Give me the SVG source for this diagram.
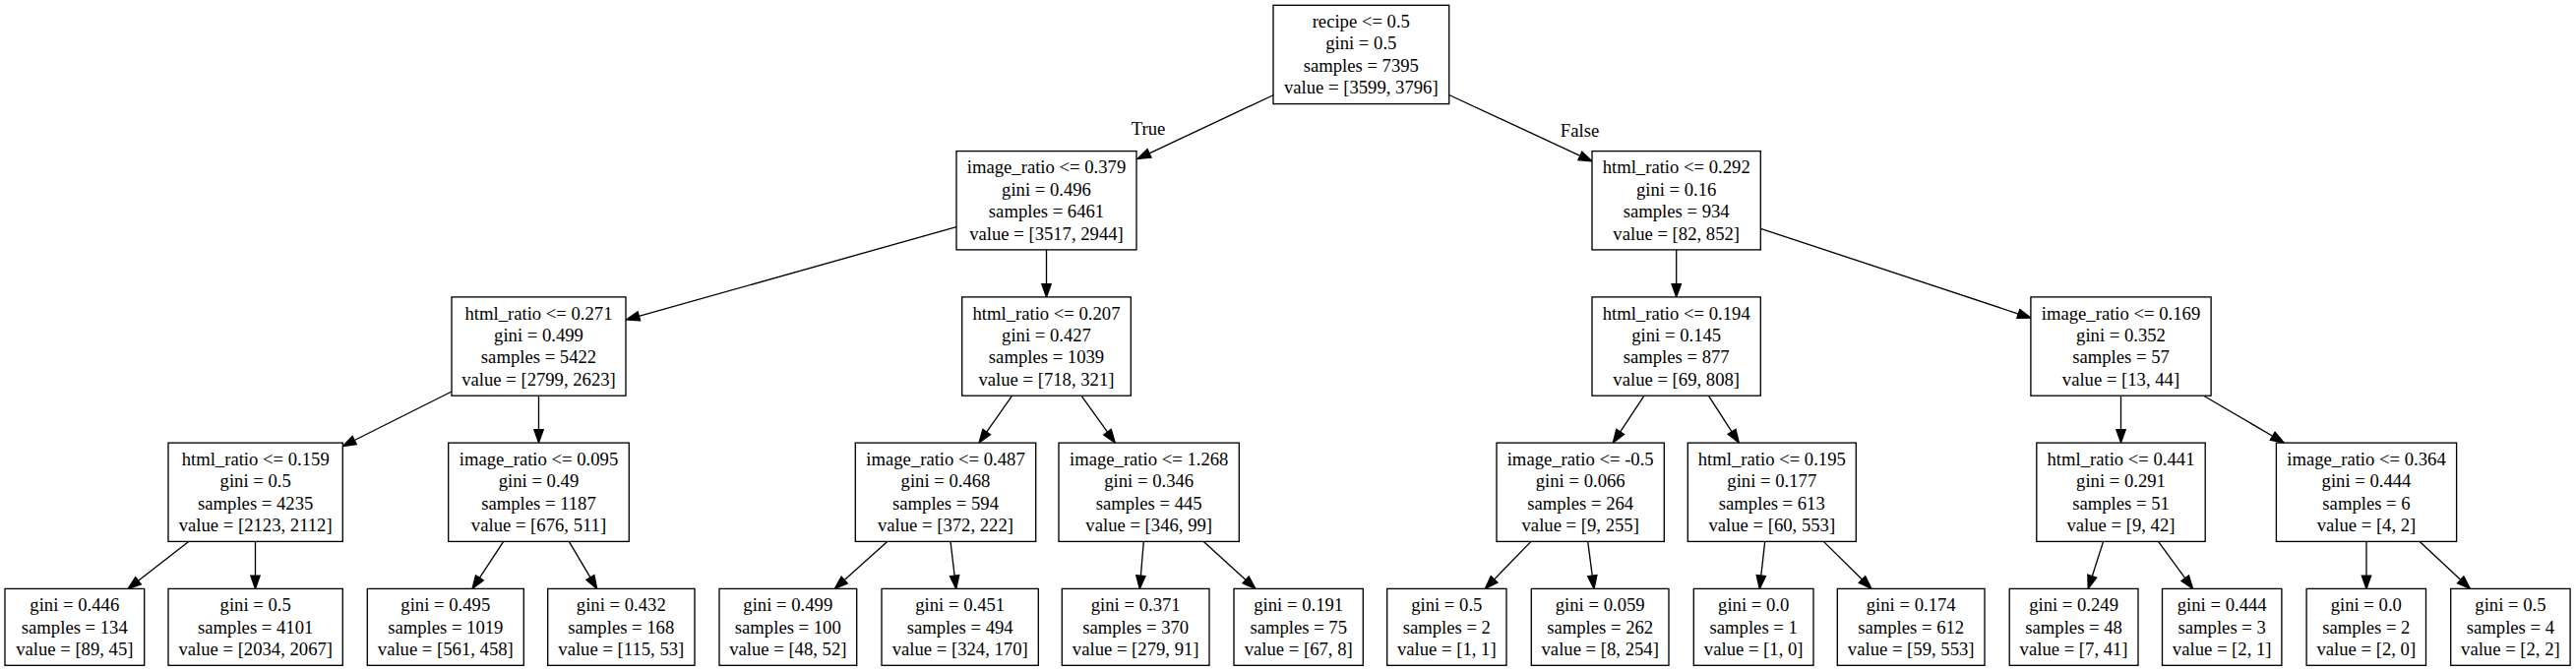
<svg xmlns="http://www.w3.org/2000/svg" width="2618" height="682" viewBox="0 0 2618 682">
<style>
.box{fill:#fff;stroke:#000;stroke-width:1.33}
text{font-family:"Liberation Serif","Times New Roman",serif;font-size:18.67px;text-anchor:middle;fill:#000}
.e{stroke:#000;stroke-width:1.33;fill:none;marker-end:url(#arr)}
</style>
<defs>
<marker id="arr" markerUnits="userSpaceOnUse" markerWidth="16" markerHeight="12" refX="0" refY="4.67" orient="auto" overflow="visible">
<path d="M0,0 L13.33,4.67 L0,9.33 Z" fill="#000" stroke="#000" stroke-width="1.33"/>
</marker>
</defs>
<rect width="2618" height="682" fill="#fff"/>
<g id="edges">
<line class="e" x1="1294.5" y1="96.5" x2="1168.07" y2="155.84"/>
<line class="e" x1="1472.7" y1="96.5" x2="1605.91" y2="158.38"/>
<line class="e" x1="972" y1="230.6" x2="649.33" y2="321.39"/>
<line class="e" x1="1063.5" y1="253.9" x2="1063.5" y2="288.67"/>
<line class="e" x1="1703.7" y1="253.9" x2="1703.7" y2="288.67"/>
<line class="e" x1="1789.3" y1="232.3" x2="2051.34" y2="319.01"/>
<line class="e" x1="459" y1="398" x2="360.22" y2="447.52"/>
<line class="e" x1="547.5" y1="402.1" x2="547.5" y2="436.67"/>
<line class="e" x1="1028.3" y1="402.7" x2="1002.67" y2="439.1"/>
<line class="e" x1="1099.3" y1="402.7" x2="1125.52" y2="439.18"/>
<line class="e" x1="1670.7" y1="402.7" x2="1646.67" y2="438.89"/>
<line class="e" x1="1736.7" y1="402.7" x2="1760.06" y2="438.81"/>
<line class="e" x1="2155.5" y1="402.1" x2="2155.5" y2="436.67"/>
<line class="e" x1="2240.4" y1="402.7" x2="2309.7" y2="443.27"/>
<line class="e" x1="191.7" y1="550.4" x2="140.52" y2="590.22"/>
<line class="e" x1="259.5" y1="550.4" x2="259.5" y2="585.07"/>
<line class="e" x1="511.7" y1="550.4" x2="487.35" y2="587.28"/>
<line class="e" x1="578.3" y1="550.4" x2="599.91" y2="586.93"/>
<line class="e" x1="901.7" y1="550.4" x2="858.21" y2="589.49"/>
<line class="e" x1="966" y1="550.4" x2="970.13" y2="585.16"/>
<line class="e" x1="1162.3" y1="550.4" x2="1159.41" y2="585.12"/>
<line class="e" x1="1223.3" y1="550.4" x2="1266.14" y2="589.42"/>
<line class="e" x1="1556" y1="550.4" x2="1518.6" y2="588.85"/>
<line class="e" x1="1613.7" y1="550.4" x2="1618.27" y2="585.18"/>
<line class="e" x1="1793.7" y1="550.4" x2="1789.79" y2="585.15"/>
<line class="e" x1="1853.3" y1="550.4" x2="1892.51" y2="589.04"/>
<line class="e" x1="2137.6" y1="550.4" x2="2126.27" y2="585.71"/>
<line class="e" x1="2193.5" y1="550.4" x2="2220.73" y2="587.64"/>
<line class="e" x1="2405" y1="550.4" x2="2405" y2="585.07"/>
<line class="e" x1="2459.2" y1="550.4" x2="2500.67" y2="589.28"/>
<text x="1167" y="136.7">True</text>
<text x="1605.5" y="138.5">False</text>
</g>
<g id="n0"><rect class="box" x="1294" y="5.3" width="178.7" height="100.3"/>
<text x="1383.3" y="28">recipe &lt;= 0.5</text><text x="1383.3" y="50.4">gini = 0.5</text><text x="1383.3" y="72.8">samples = 7395</text><text x="1383.3" y="95.2">value = [3599, 3796]</text></g>
<g id="n1"><rect class="box" x="972" y="153.6" width="183" height="100.3"/>
<text x="1063.5" y="176.3">image_ratio &lt;= 0.379</text><text x="1063.5" y="198.7">gini = 0.496</text><text x="1063.5" y="221.1">samples = 6461</text><text x="1063.5" y="243.5">value = [3517, 2944]</text></g>
<g id="n2"><rect class="box" x="1618" y="153.6" width="171.3" height="100.3"/>
<text x="1703.7" y="176.3">html_ratio &lt;= 0.292</text><text x="1703.7" y="198.7">gini = 0.16</text><text x="1703.7" y="221.1">samples = 934</text><text x="1703.7" y="243.5">value = [82, 852]</text></g>
<g id="n3"><rect class="box" x="459" y="301.9" width="177" height="100.3"/>
<text x="547.5" y="324.6">html_ratio &lt;= 0.271</text><text x="547.5" y="347">gini = 0.499</text><text x="547.5" y="369.4">samples = 5422</text><text x="547.5" y="391.8">value = [2799, 2623]</text></g>
<g id="n4"><rect class="box" x="977.7" y="301.9" width="171.6" height="100.3"/>
<text x="1063.5" y="324.6">html_ratio &lt;= 0.207</text><text x="1063.5" y="347">gini = 0.427</text><text x="1063.5" y="369.4">samples = 1039</text><text x="1063.5" y="391.8">value = [718, 321]</text></g>
<g id="n5"><rect class="box" x="1618" y="301.9" width="171.3" height="100.3"/>
<text x="1703.7" y="324.6">html_ratio &lt;= 0.194</text><text x="1703.7" y="347">gini = 0.145</text><text x="1703.7" y="369.4">samples = 877</text><text x="1703.7" y="391.8">value = [69, 808]</text></g>
<g id="n6"><rect class="box" x="2063.9" y="301.9" width="183.2" height="100.3"/>
<text x="2155.5" y="324.6">image_ratio &lt;= 0.169</text><text x="2155.5" y="347">gini = 0.352</text><text x="2155.5" y="369.4">samples = 57</text><text x="2155.5" y="391.8">value = [13, 44]</text></g>
<g id="n7"><rect class="box" x="171" y="450.1" width="177.3" height="100.3"/>
<text x="259.7" y="472.8">html_ratio &lt;= 0.159</text><text x="259.7" y="495.2">gini = 0.5</text><text x="259.7" y="517.6">samples = 4235</text><text x="259.7" y="540">value = [2123, 2112]</text></g>
<g id="n8"><rect class="box" x="455.7" y="450.1" width="183.6" height="100.3"/>
<text x="547.5" y="472.8">image_ratio &lt;= 0.095</text><text x="547.5" y="495.2">gini = 0.49</text><text x="547.5" y="517.6">samples = 1187</text><text x="547.5" y="540">value = [676, 511]</text></g>
<g id="n9"><rect class="box" x="869.3" y="450.1" width="183.4" height="100.3"/>
<text x="961" y="472.8">image_ratio &lt;= 0.487</text><text x="961" y="495.2">gini = 0.468</text><text x="961" y="517.6">samples = 594</text><text x="961" y="540">value = [372, 222]</text></g>
<g id="n10"><rect class="box" x="1076" y="450.1" width="183.3" height="100.3"/>
<text x="1167.7" y="472.8">image_ratio &lt;= 1.268</text><text x="1167.7" y="495.2">gini = 0.346</text><text x="1167.7" y="517.6">samples = 445</text><text x="1167.7" y="540">value = [346, 99]</text></g>
<g id="n11"><rect class="box" x="1521" y="450.1" width="170.3" height="100.3"/>
<text x="1606.2" y="472.8">image_ratio &lt;= -0.5</text><text x="1606.2" y="495.2">gini = 0.066</text><text x="1606.2" y="517.6">samples = 264</text><text x="1606.2" y="540">value = [9, 255]</text></g>
<g id="n12"><rect class="box" x="1715.3" y="450.1" width="171" height="100.3"/>
<text x="1800.8" y="472.8">html_ratio &lt;= 0.195</text><text x="1800.8" y="495.2">gini = 0.177</text><text x="1800.8" y="517.6">samples = 613</text><text x="1800.8" y="540">value = [60, 553]</text></g>
<g id="n13"><rect class="box" x="2069.8" y="450.1" width="171.4" height="100.3"/>
<text x="2155.5" y="472.8">html_ratio &lt;= 0.441</text><text x="2155.5" y="495.2">gini = 0.291</text><text x="2155.5" y="517.6">samples = 51</text><text x="2155.5" y="540">value = [9, 42]</text></g>
<g id="n14"><rect class="box" x="2313.4" y="450.1" width="183.2" height="100.3"/>
<text x="2405" y="472.8">image_ratio &lt;= 0.364</text><text x="2405" y="495.2">gini = 0.444</text><text x="2405" y="517.6">samples = 6</text><text x="2405" y="540">value = [4, 2]</text></g>
<g id="l1"><rect class="box" x="5" y="598.4" width="141.7" height="77.9"/>
<text x="75.8" y="621.1">gini = 0.446</text><text x="75.8" y="643.5">samples = 134</text><text x="75.8" y="665.9">value = [89, 45]</text></g>
<g id="l2"><rect class="box" x="171" y="598.4" width="177.3" height="77.9"/>
<text x="259.7" y="621.1">gini = 0.5</text><text x="259.7" y="643.5">samples = 4101</text><text x="259.7" y="665.9">value = [2034, 2067]</text></g>
<g id="l3"><rect class="box" x="373.3" y="598.4" width="159" height="77.9"/>
<text x="452.8" y="621.1">gini = 0.495</text><text x="452.8" y="643.5">samples = 1019</text><text x="452.8" y="665.9">value = [561, 458]</text></g>
<g id="l4"><rect class="box" x="556.7" y="598.4" width="149.3" height="77.9"/>
<text x="631.3" y="621.1">gini = 0.432</text><text x="631.3" y="643.5">samples = 168</text><text x="631.3" y="665.9">value = [115, 53]</text></g>
<g id="l5"><rect class="box" x="731" y="598.4" width="139.7" height="77.9"/>
<text x="800.8" y="621.1">gini = 0.499</text><text x="800.8" y="643.5">samples = 100</text><text x="800.8" y="665.9">value = [48, 52]</text></g>
<g id="l6"><rect class="box" x="896" y="598.4" width="159.3" height="77.9"/>
<text x="975.7" y="621.1">gini = 0.451</text><text x="975.7" y="643.5">samples = 494</text><text x="975.7" y="665.9">value = [324, 170]</text></g>
<g id="l7"><rect class="box" x="1079.3" y="598.4" width="149.7" height="77.9"/>
<text x="1154.2" y="621.1">gini = 0.371</text><text x="1154.2" y="643.5">samples = 370</text><text x="1154.2" y="665.9">value = [279, 91]</text></g>
<g id="l8"><rect class="box" x="1254" y="598.4" width="131.3" height="77.9"/>
<text x="1319.7" y="621.1">gini = 0.191</text><text x="1319.7" y="643.5">samples = 75</text><text x="1319.7" y="665.9">value = [67, 8]</text></g>
<g id="l9"><rect class="box" x="1409.7" y="598.4" width="121.3" height="77.9"/>
<text x="1470.3" y="621.1">gini = 0.5</text><text x="1470.3" y="643.5">samples = 2</text><text x="1470.3" y="665.9">value = [1, 1]</text></g>
<g id="l10"><rect class="box" x="1556.3" y="598.4" width="139.7" height="77.9"/>
<text x="1626.2" y="621.1">gini = 0.059</text><text x="1626.2" y="643.5">samples = 262</text><text x="1626.2" y="665.9">value = [8, 254]</text></g>
<g id="l11"><rect class="box" x="1721.3" y="598.4" width="121.7" height="77.9"/>
<text x="1782.2" y="621.1">gini = 0.0</text><text x="1782.2" y="643.5">samples = 1</text><text x="1782.2" y="665.9">value = [1, 0]</text></g>
<g id="l12"><rect class="box" x="1867.3" y="598.4" width="149.7" height="77.9"/>
<text x="1942.2" y="621.1">gini = 0.174</text><text x="1942.2" y="643.5">samples = 612</text><text x="1942.2" y="665.9">value = [59, 553]</text></g>
<g id="l13"><rect class="box" x="2042.2" y="598.4" width="130.8" height="77.9"/>
<text x="2107.6" y="621.1">gini = 0.249</text><text x="2107.6" y="643.5">samples = 48</text><text x="2107.6" y="665.9">value = [7, 41]</text></g>
<g id="l14"><rect class="box" x="2197.5" y="598.4" width="121.4" height="77.9"/>
<text x="2258.2" y="621.1">gini = 0.444</text><text x="2258.2" y="643.5">samples = 3</text><text x="2258.2" y="665.9">value = [2, 1]</text></g>
<g id="l15"><rect class="box" x="2344.1" y="598.4" width="121.4" height="77.9"/>
<text x="2404.8" y="621.1">gini = 0.0</text><text x="2404.8" y="643.5">samples = 2</text><text x="2404.8" y="665.9">value = [2, 0]</text></g>
<g id="l16"><rect class="box" x="2490.7" y="598.4" width="121.4" height="77.9"/>
<text x="2551.4" y="621.1">gini = 0.5</text><text x="2551.4" y="643.5">samples = 4</text><text x="2551.4" y="665.9">value = [2, 2]</text></g>
</svg>
